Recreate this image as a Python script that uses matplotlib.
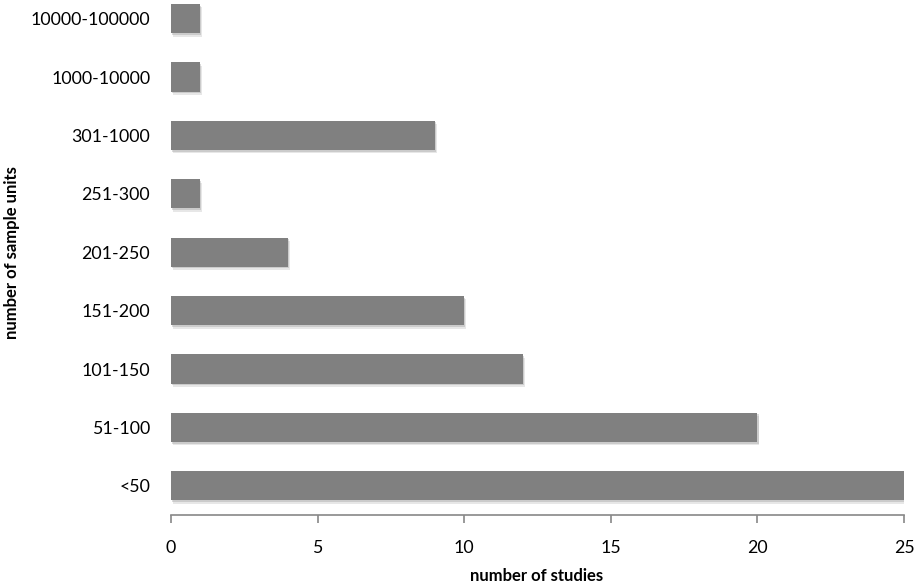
import matplotlib
matplotlib.use("Agg")
import matplotlib.pyplot as plt
import matplotlib.patheffects as pe

categories = ["<50", "51-100", "101-150", "151-200", "201-250", "251-300",
              "301-1000", "1000-10000", "10000-100000"]
values = [25, 20, 12, 10, 4, 1, 9, 1, 1]
xticks = [0, 5, 10, 15, 20, 25]

plt.rcParams['font.family'] = ['Lato', 'DejaVu Sans']

W, H = 917, 586
fig = plt.figure(figsize=(W/100, H/100), dpi=100)
left, right = 171/W, 904/W
bottom = 1 - 515/H
top = 1 + 10.6/H
ax = fig.add_axes([left, bottom, right-left, top-bottom])

ypos = list(range(len(categories)))
bars = ax.barh(ypos, values, height=0.5, color='#808080', zorder=3)
for b in bars:
    b.set_path_effects([
        pe.SimplePatchShadow(offset=(1.5, -2.5), shadow_rgbFace='#bbbbbb', alpha=0.35),
        pe.SimplePatchShadow(offset=(0.8, -1.2), shadow_rgbFace='#999999', alpha=0.35),
        pe.Normal()])

ax.set_xlim(0, 25)
ax.set_ylim(-0.5, 8.5)
ax.set_yticks(ypos)
ax.set_yticklabels(categories, fontsize=12.8)
ax.set_xticks(xticks)
ax.set_xticklabels([str(t) for t in xticks], fontsize=12.8)

for s in ['top', 'right', 'left']:
    ax.spines[s].set_visible(False)
ax.spines['bottom'].set_color('#888888')
ax.spines['bottom'].set_linewidth(1.2)
ax.tick_params(axis='y', length=0, pad=15)
ax.tick_params(axis='x', length=6, color='#888888', width=1.2, pad=12, direction='out')

fig.text(537/W, 1 - 576/H, "number of studies", ha='center', va='center',
         fontsize=12, fontweight='bold')
fig.text(12/W, 1 - 253/H, "number of sample units", ha='center', va='center',
         rotation=90, fontsize=12, fontweight='bold')

fig.savefig("out.png", dpi=100)
